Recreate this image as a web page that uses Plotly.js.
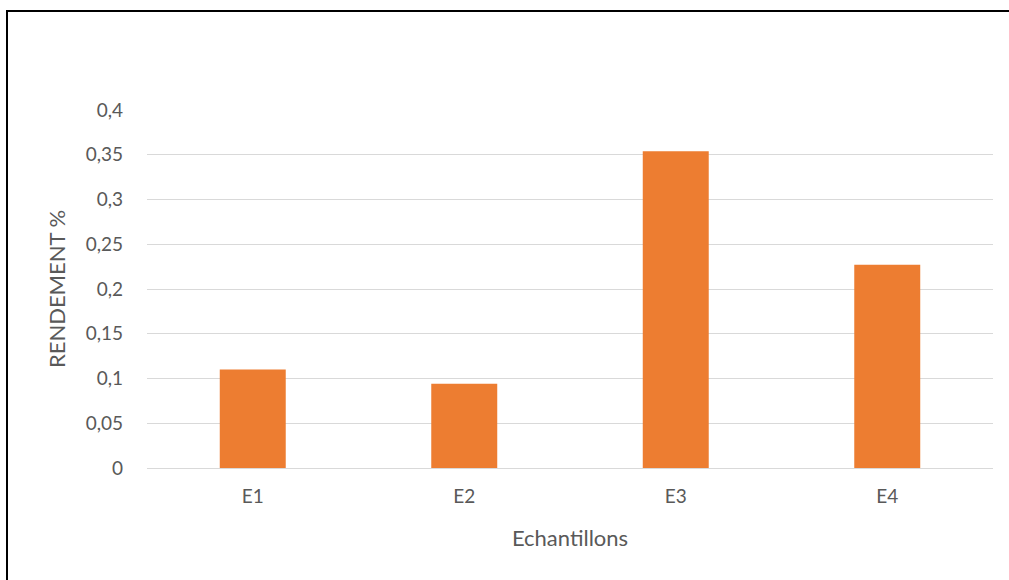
<!DOCTYPE html>
<html>
<head>
<meta charset="utf-8">
<script src="https://cdn.plot.ly/plotly-3.0.1.min.js"></script>
<style>
html,body{margin:0;padding:0;background:#fff;overflow:hidden;}
#chart{position:absolute;left:0;top:0;width:1009px;height:580px;}
#frame{position:absolute;left:6px;top:10px;width:1100px;height:700px;border-left:2px solid #000;border-top:2px solid #000;pointer-events:none;}
</style>
</head>
<body>
<div id="chart"></div>
<div id="frame"></div>
<script>
const categories = ["E1", "E2", "E3", "E4"];
const rendement = [0.11, 0.094, 0.354, 0.227];
const yTickVals = [0, 0.05, 0.1, 0.15, 0.2, 0.25, 0.3, 0.35, 0.4];
const yTickText = ["0", "0,05", "0,1", "0,15", "0,2", "0,25", "0,3", "0,35", "0,4"];

const font = "Lato, 'Open Sans', sans-serif";
Plotly.newPlot("chart", [{
  type: "bar",
  x: categories,
  y: rendement,
  marker: {color: "#ED7D31"},
  hoverinfo: "none"
}], {
  width: 1009, height: 580,
  margin: {l: 147, r: 16, t: 110, b: 112},
  paper_bgcolor: "#fff", plot_bgcolor: "#fff",
  bargap: 0.688,
  showlegend: false,
  separators: ", ",
  font: {family: font, color: "#595959", size: 19},
  xaxis: {
    type: "category",
    showgrid: false,
    showline: false,
    ticks: "",
    ticklabelstandoff: 15,
    tickfont: {family: font, size: 19, color: "#595959"},
    title: {text: "Echantillons", font: {family: font, size: 22, color: "#595959"}, standoff: 24}
  },
  yaxis: {
    range: [0, 0.4],
    tickvals: yTickVals,
    ticktext: yTickText,
    showgrid: true,
    gridcolor: "#d9d9d9",
    gridwidth: 1,
    zeroline: true,
    zerolinecolor: "#d9d9d9",
    zerolinewidth: 1,
    showline: false,
    ticks: "",
    ticklabelstandoff: 23,
    tickfont: {family: font, size: 19, color: "#595959"},
    title: {text: "RENDEMENT %", font: {family: font, size: 22, color: "#595959"}, standoff: 13}
  }
}, {staticPlot: true, displayModeBar: false});
</script>
</body>
</html>
